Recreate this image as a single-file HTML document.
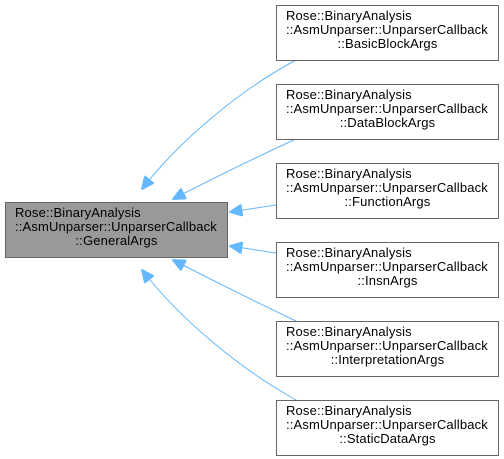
<!DOCTYPE html>
<html><head><style>
body{margin:0;background:#fff;width:504px;height:459px;overflow:hidden;position:relative;font-family:"Liberation Sans",sans-serif;font-size:13px;}
.b{position:absolute;box-sizing:border-box;border:1px solid #666;background:#fff;width:223px;height:56px;padding:3px 0 0 9px;line-height:14px;color:#000;white-space:nowrap;letter-spacing:0.15px}
.b .c{display:block;text-align:center;margin-left:-9px}
.g{background:#999;}
svg{position:absolute;left:0;top:0}
</style></head><body>
<svg width="504" height="459">
<defs><marker id="a" markerWidth="14" markerHeight="12" refX="1" refY="6" orient="auto" markerUnits="userSpaceOnUse"><path d="M13,0 L0,6 L13,12 z" fill="#63b8ff" stroke="#63b8ff"/></marker></defs>
<g fill="none" stroke="#63b8ff" stroke-width="1">
<path d="M142,189 C180,140 240,90 296,60" marker-start="url(#a)"/>
<path d="M173,199 C210,180 250,160 296,139" marker-start="url(#a)"/>
<path d="M230,212 L276,205" marker-start="url(#a)"/>
<path d="M230,246 L276,253" marker-start="url(#a)"/>
<path d="M173,260 C210,279 250,299 296,321" marker-start="url(#a)"/>
<path d="M142,270 C180,319 240,369 296,400" marker-start="url(#a)"/>
</g>
</svg>
<div class="b g" style="left:5px;top:202px">Rose::BinaryAnalysis<br>::AsmUnparser::UnparserCallback<span class="c">::GeneralArgs</span></div>
<div class="b" style="left:276px;top:5px">Rose::BinaryAnalysis<br>::AsmUnparser::UnparserCallback<span class="c">::BasicBlockArgs</span></div>
<div class="b" style="left:276px;top:84px">Rose::BinaryAnalysis<br>::AsmUnparser::UnparserCallback<span class="c">::DataBlockArgs</span></div>
<div class="b" style="left:276px;top:163px">Rose::BinaryAnalysis<br>::AsmUnparser::UnparserCallback<span class="c">::FunctionArgs</span></div>
<div class="b" style="left:276px;top:242px">Rose::BinaryAnalysis<br>::AsmUnparser::UnparserCallback<span class="c">::InsnArgs</span></div>
<div class="b" style="left:276px;top:321px">Rose::BinaryAnalysis<br>::AsmUnparser::UnparserCallback<span class="c">::InterpretationArgs</span></div>
<div class="b" style="left:276px;top:400px">Rose::BinaryAnalysis<br>::AsmUnparser::UnparserCallback<span class="c">::StaticDataArgs</span></div>
</body></html>
